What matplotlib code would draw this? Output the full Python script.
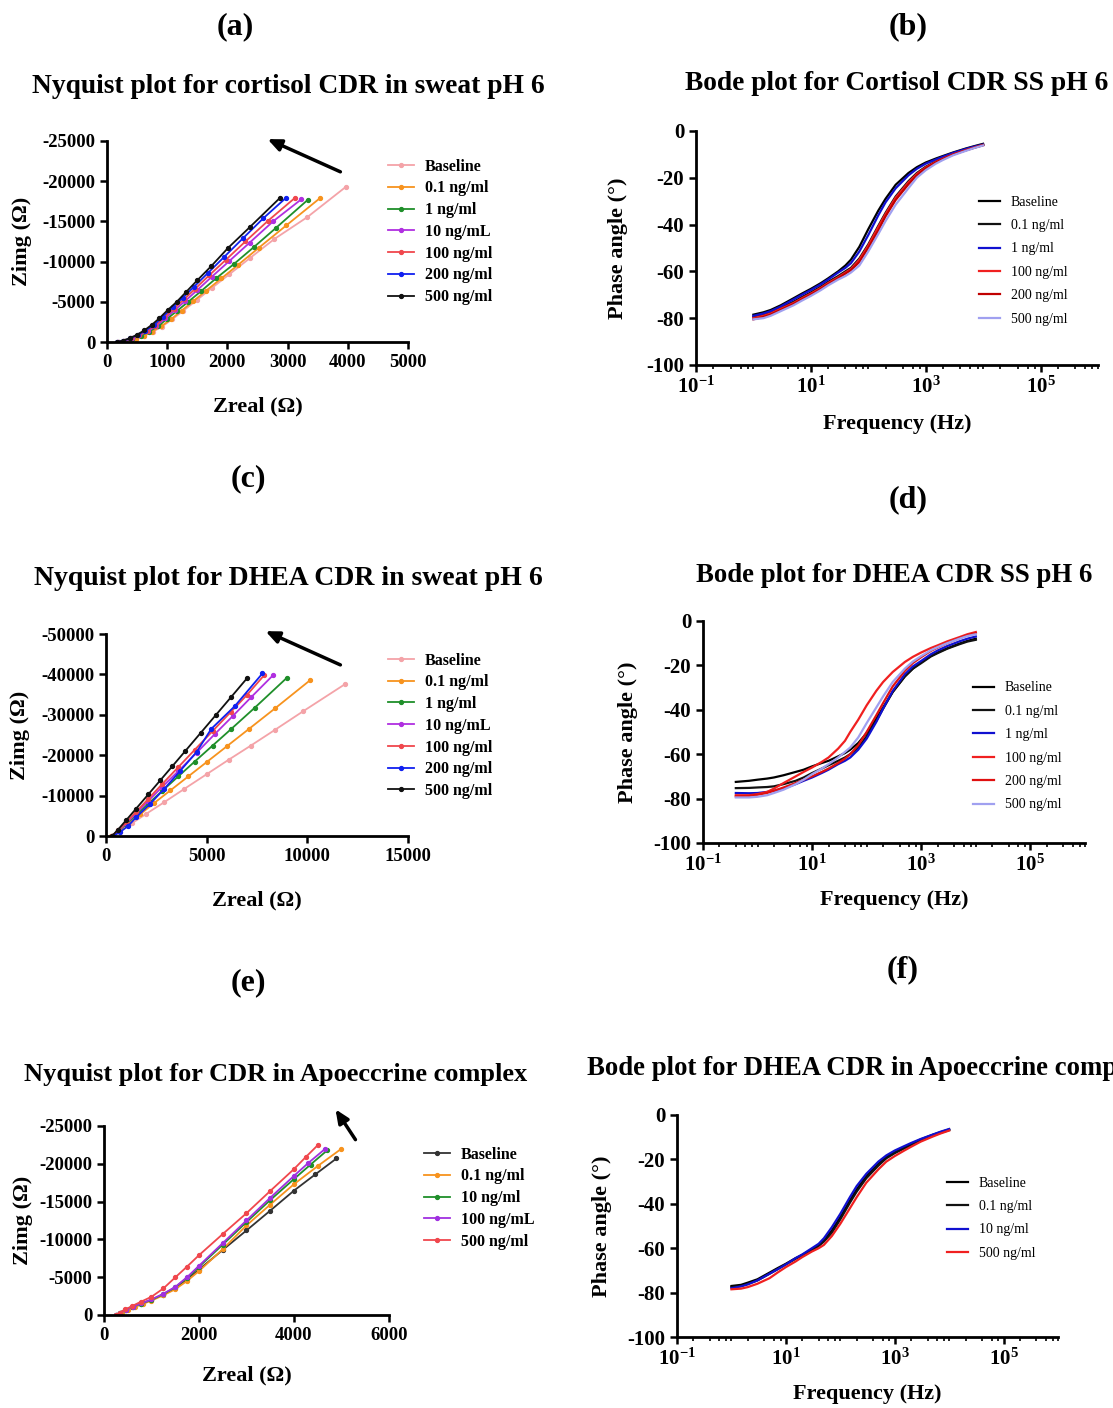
import numpy as np
import matplotlib
matplotlib.use("Agg")
import matplotlib.pyplot as plt
from matplotlib.ticker import FixedLocator, LogLocator, NullFormatter

plt.rcParams['font.family'] = ['Liberation Serif', 'DejaVu Serif']
plt.rcParams['axes.unicode_minus'] = False
plt.rcParams['mathtext.fontset'] = 'stix'

# ---------------- (a) Nyquist cortisol, sweat pH 6 ----------------
a_labels = ['Baseline', '0.1 ng/ml', '1 ng/ml', '10 ng/mL', '100 ng/ml', '200 ng/ml', '500 ng/ml']
a_colors = ['#f4a3a8', '#f7931e', '#1f8f2a', '#b02fe0', '#f0474d', '#1020f0', '#111111']
a_x = [
    [290, 380, 490, 620, 760, 910, 1080, 1270, 1490, 1740, 2030, 2370, 2780, 3331, 3967],
    [280, 370, 480, 610, 750, 900, 1060, 1240, 1430, 1650, 1900, 2180, 2520, 2980, 3541],
    [200, 300, 420, 560, 700, 850, 1000, 1170, 1350, 1560, 1810, 2110, 2440, 2810, 3340],
    [190, 290, 410, 540, 680, 820, 970, 1130, 1300, 1500, 1740, 2030, 2370, 2760, 3230],
    [180, 280, 400, 530, 660, 800, 950, 1110, 1280, 1470, 1700, 1980, 2300, 2680, 3120],
    [170, 270, 390, 510, 640, 780, 930, 1090, 1260, 1450, 1680, 1950, 2260, 2600, 2972],
    [160, 260, 380, 500, 620, 740, 870, 1010, 1160, 1310, 1500, 1735, 2011, 2376, 2873],
]
a_y = [
    [0, -140, -400, -780, -1270, -1900, -2800, -3900, -5200, -6700, -8400, -10400, -12800, -15540, -19280],
    [0, -150, -420, -800, -1300, -1950, -2800, -3900, -5050, -6400, -7900, -9600, -11700, -14500, -17900],
    [0, -140, -420, -800, -1300, -1950, -2900, -3900, -5000, -6300, -7900, -9700, -11800, -14200, -17700],
    [0, -150, -440, -840, -1350, -2000, -2950, -4000, -5100, -6450, -8100, -10050, -12350, -15000, -17750],
    [0, -150, -450, -860, -1380, -2050, -3050, -4150, -5300, -6650, -8300, -10250, -12500, -15100, -17900],
    [0, -150, -460, -880, -1420, -2100, -3150, -4300, -5500, -6900, -8600, -10600, -12900, -15400, -17910],
    [0, -160, -480, -900, -1450, -2100, -2950, -3980, -5000, -6180, -7670, -9450, -11690, -14300, -17910],
]

# ---------------- (b) Bode cortisol, SS pH 6 ----------------
b_labels = ['Baseline', '0.1 ng/ml', '1 ng/ml', '100 ng/ml', '200 ng/ml', '500 ng/ml']
b_colors = ['#000000', '#111111', '#1010d0', '#f02020', '#c00000', '#a0a0f0']
b_freq = [1, 1.5, 2, 3, 5, 7, 10, 15, 20, 30, 40, 50, 70, 100, 150, 200, 300, 500, 700,
          1000, 1500, 2000, 3000, 5000, 7000, 10000]
b_phase = [
    [-78.5, -77.5, -76.5, -74.5, -71.5, -69.5, -67.5, -65, -63, -60, -57.5, -55, -49.5, -42, -34,
     -29, -23, -18, -15.5, -13.5, -11.8, -10.7, -9.2, -7.5, -6.5, -5.5],
    [-79.5, -78.5, -77.5, -75.5, -73, -71, -69, -66.5, -64.5, -62, -60, -58.5, -54.5, -48.5, -40.5,
     -35, -28, -21.5, -18, -15.3, -13, -11.6, -9.8, -8, -7, -6],
    [-79, -78, -77, -75, -72, -70, -68, -65.5, -63.5, -60.5, -58.5, -56.5, -51.5, -44.5, -36,
     -30.5, -24.5, -19, -16.2, -14, -12.2, -11, -9.4, -7.7, -6.7, -5.8],
    [-80, -79, -78, -76, -73.5, -71.5, -69.5, -67, -65, -62.5, -60.5, -59, -55, -49, -41,
     -35.5, -28.5, -22, -18.4, -15.6, -13.2, -11.8, -10, -8.2, -7.1, -6],
    [-80.5, -79.5, -78.5, -76.5, -74, -72, -70, -67.5, -65.5, -63, -61, -59.5, -56, -50, -42.5,
     -36.5, -29.5, -22.8, -19, -16, -13.5, -12, -10.1, -8.3, -7.2, -6.1],
    [-80.5, -80, -79, -77, -74.5, -72.5, -70.5, -68, -66, -63.5, -62, -60.5, -57.5, -51.5, -44,
     -38.5, -31.5, -24.5, -20, -16.8, -14, -12.4, -10.4, -8.5, -7.3, -6.2],
]

# ---------------- (c) Nyquist DHEA, sweat pH 6 ----------------
c_labels = a_labels
c_colors = a_colors
c_x = [
    [300, 700, 1300, 2000, 2900, 3900, 5000, 6100, 7200, 8400, 9800, 11877],
    [250, 600, 1100, 1700, 2400, 3200, 4100, 5000, 6000, 7100, 8400, 10150],
    [300, 600, 1000, 1500, 2100, 2800, 3600, 4400, 5300, 6200, 7400, 8970],
    [300, 600, 1000, 1500, 2100, 2800, 3600, 4500, 5400, 6300, 7200, 8306],
    [300, 600, 1000, 1500, 2100, 2800, 3600, 4400, 5300, 6200, 7000, 7850],
    [350, 700, 1100, 1512, 2200, 2900, 3700, 4500, 5232, 6400, 7774],
    [300, 600, 1000, 1500, 2100, 2700, 3300, 3950, 4700, 5450, 6200, 7027],
]
c_y = [
    [0, -1100, -3200, -5500, -8400, -11700, -15300, -18900, -22400, -26300, -30900, -37600],
    [0, -1200, -3100, -5400, -8200, -11300, -14800, -18300, -22200, -26500, -31600, -38600],
    [0, -1200, -3000, -5200, -8000, -11200, -14800, -18400, -22400, -26400, -31800, -39090],
    [0, -1300, -3200, -5600, -8700, -12200, -16100, -20600, -25200, -29700, -34300, -39830],
    [0, -1400, -3400, -6000, -9200, -12900, -17100, -21300, -26000, -30700, -34900, -39750],
    [0, -1000, -2500, -4710, -8000, -11700, -16200, -20800, -26530, -32150, -40250],
    [0, -1600, -3900, -6800, -10300, -13800, -17300, -21100, -25500, -29900, -34300, -39170],
]

# ---------------- (d) Bode DHEA, SS pH 6 ----------------
d_labels = b_labels
d_colors = ['#000000', '#111111', '#1010d0', '#f02020', '#e01010', '#a0a0f0']
d_freq = [0.4, 0.7, 1, 1.5, 2, 3, 5, 7, 10, 15, 20, 30, 40, 50, 70, 100, 150, 200, 300, 500,
          700, 1000, 1500, 2000, 3000, 5000, 7000, 10000]
d_phase = [
    [-72.5, -72, -71.5, -71, -70.5, -69.5, -68, -67, -65.5, -64, -63, -61, -59.5, -58, -55,
     -50.5, -44, -39, -32, -25, -21.5, -18.5, -15.8, -14.2, -12.3, -10.2, -9, -8],
    [-75.3, -75.2, -75, -74.8, -74.5, -73.5, -72, -70.5, -68.5, -66.5, -65, -63, -61.5, -60, -57,
     -52, -45, -39.5, -32, -25, -21.5, -19, -16, -14.5, -12.5, -10.5, -9.3, -8.5],
    [-77.5, -77.6, -77.5, -77, -76.5, -75.5, -73.5, -72, -70.5, -68.5, -67, -64.5, -63, -61.5, -58,
     -53, -45.5, -39.5, -31.5, -24, -20.5, -18, -15, -13.3, -11.3, -9.2, -8, -7],
    [-78.5, -78.5, -78, -77, -75.5, -73, -70, -68, -66, -63.5, -61.5, -57.5, -54, -50, -44.5,
     -38, -31.5, -27.5, -23, -18.5, -16.2, -14.2, -12.2, -11, -9.2, -7.3, -6, -5],
    [-79, -78.8, -78.3, -77.5, -76.5, -75, -73, -71.5, -70, -68, -66.5, -64, -62, -60, -56,
     -50, -42.5, -37, -29.5, -22.5, -19, -16.3, -13.5, -12, -10, -7.8, -6.5, -5.5],
    [-79.5, -79.5, -79.2, -78.5, -77.5, -76, -73.5, -71.5, -69, -66.5, -64.5, -61.5, -59, -57, -52.5,
     -46, -39, -34, -27.5, -21.5, -18.3, -15.8, -13.2, -11.8, -10, -8, -6.8, -6],
]

# ---------------- (e) Nyquist CDR, apoeccrine ----------------
e_labels = ['Baseline', '0.1 ng/ml', '10 ng/ml', '100 ng/mL', '500 ng/ml']
e_colors = ['#333333', '#f7931e', '#1f8f2a', '#a030e0', '#f0474d']
e_x = [
    [250, 330, 450, 600, 780, 1000, 1250, 1500, 1750, 2000, 2500, 3000, 3500, 4000, 4450, 4894],
    [300, 380, 500, 650, 820, 1000, 1250, 1500, 1750, 2000, 2500, 3000, 3500, 4000, 4500, 4986],
    [260, 340, 460, 610, 790, 1000, 1250, 1500, 1750, 2000, 2500, 3000, 3500, 4000, 4350, 4704],
    [260, 340, 460, 610, 790, 1000, 1250, 1500, 1750, 2000, 2500, 3000, 3500, 4000, 4300, 4648],
    [250, 330, 450, 600, 780, 1000, 1250, 1500, 1750, 2000, 2500, 3000, 3500, 4000, 4250, 4507],
]
e_y = [
    [0, -300, -700, -1100, -1500, -1970, -2700, -3500, -4700, -6000, -8600, -11180, -13800, -16450, -18600, -20700],
    [0, -250, -650, -1050, -1450, -1900, -2600, -3400, -4500, -5800, -8700, -11840, -14600, -17300, -19700, -21930],
    [0, -280, -680, -1100, -1500, -2000, -2750, -3650, -4900, -6360, -9300, -12280, -15200, -17980, -19900, -21800],
    [0, -280, -680, -1100, -1520, -2050, -2800, -3700, -5000, -6500, -9500, -12500, -15500, -18400, -20100, -21930],
    [0, -300, -720, -1200, -1750, -2400, -3500, -4960, -6400, -7900, -10700, -13460, -16400, -19300, -20900, -22500],
]

# ---------------- (f) Bode DHEA, apoeccrine ----------------
f_labels = ['Baseline', '0.1 ng/ml', '10 ng/ml', '500 ng/ml']
f_colors = ['#000000', '#111111', '#1010d0', '#f02020']
f_freq = [1, 1.5, 2, 3, 5, 7, 10, 15, 20, 30, 40, 50, 70, 100, 150, 200, 300, 500, 700,
          1000, 1500, 2000, 3000, 5000, 7000, 10000]
f_phase = [
    [-77, -76.5, -75.5, -74, -71, -69, -67, -64.5, -63, -60.5, -58.5, -56.5, -52, -46, -38.5,
     -33.5, -27.5, -21.8, -18.8, -16.5, -14.5, -13, -11, -8.9, -7.7, -6.5],
    [-77.5, -77, -76, -74.5, -71.5, -69.5, -67.3, -64.8, -63.2, -61, -59, -57, -53, -47, -39.5,
     -34.5, -28.5, -22.8, -19.5, -17.2, -15, -13.5, -11.4, -9.3, -8, -6.8],
    [-78, -77.2, -76.3, -74.5, -71.5, -69.5, -67.3, -64.5, -62.8, -60, -58, -55.5, -50.5, -44.5, -37,
     -32, -26.5, -21, -18.2, -16, -14, -12.6, -10.8, -8.8, -7.5, -6.3],
    [-78.5, -78.2, -77.5, -76, -73.5, -71, -68.5, -66, -64, -61.5, -60, -58.5, -54.5, -49, -42,
     -37, -30.5, -24.5, -21, -18.5, -16, -14.3, -12, -9.7, -8.3, -7],
]


def style_axes(ax):
    for side in ['top', 'right']:
        ax.spines[side].set_visible(False)
    for side in ['left', 'bottom']:
        ax.spines[side].set_linewidth(2.0)
    ax.tick_params(which='major', direction='out', length=5, width=1.8)
    ax.tick_params(which='minor', direction='out', length=3, width=1.2)


def draw_nyquist(ax, xs, ys, labels, colors, xmax, xstep, ymin, ystep, leg_pos, arrow):
    for x, y, lab, col in zip(xs, ys, labels, colors):
        ax.plot(x, y, '-o', color=col, lw=1.3, ms=2.8, label=lab)
    ax.set_xlim(0, xmax)
    ax.set_ylim(0, ymin)
    ax.set_xticks(np.arange(0, xmax + 1, xstep))
    ax.set_yticks(np.arange(0, ymin - 1, -ystep))
    style_axes(ax)
    for t in ax.get_xticklabels() + ax.get_yticklabels():
        t.set_fontsize(13.5)
        t.set_fontweight('bold')
    ax.set_xlabel('Zreal (Ω)', fontsize=16, fontweight='bold', va='top')
    ax.set_ylabel('Zimg (Ω)', fontsize=16, fontweight='bold')
    ax.xaxis.set_label_coords(0.5, -0.27)
    ax.yaxis.set_label_coords(-0.25, 0.5)
    ax.annotate('', xy=arrow[1], xytext=arrow[0], annotation_clip=False,
                arrowprops=dict(arrowstyle='-|>,head_length=0.8,head_width=0.35', color='black', lw=2.5))
    ax.legend(loc='upper left', bbox_to_anchor=leg_pos, bbox_transform=ax.figure.transFigure,
              frameon=False, handlelength=1.6, handletextpad=0.7, labelspacing=0.36, borderpad=0,
              prop={'size': 11.5, 'weight': 'bold'})


def draw_bode(ax, freq, phases, labels, colors, leg_pos):
    for ph, lab, col in zip(phases, labels, colors):
        ax.plot(freq, ph, '-', color=col, lw=1.6, label=lab)
    ax.set_xscale('log')
    ax.set_xlim(0.1, 1e6)
    ax.set_ylim(-100, 0)
    ax.set_yticks([0, -20, -40, -60, -80, -100])
    ax.xaxis.set_major_locator(FixedLocator([0.1, 10, 1e3, 1e5]))
    ax.set_xticklabels([r'$\mathregular{10^{-1}}$', r'$\mathregular{10^{1}}$',
                        r'$\mathregular{10^{3}}$', r'$\mathregular{10^{5}}$'])
    ax.xaxis.set_minor_locator(LogLocator(base=10, subs=(1.0, 2.0, 4.0, 6.0, 8.0), numticks=20))
    ax.xaxis.set_minor_formatter(NullFormatter())
    style_axes(ax)
    for t in ax.get_xticklabels() + ax.get_yticklabels():
        t.set_fontsize(15)
        t.set_fontweight('bold')
    ax.set_xlabel('Frequency (Hz)', fontsize=16, fontweight='bold', va='top')
    ax.set_ylabel('Phase angle (°)', fontsize=16, fontweight='bold')
    ax.xaxis.set_label_coords(0.5, -0.21)
    ax.yaxis.set_label_coords(-0.17, 0.5)
    ax.legend(loc='upper left', bbox_to_anchor=leg_pos, bbox_transform=ax.figure.transFigure,
              frameon=False, handlelength=1.5, handletextpad=0.8, labelspacing=0.75, borderpad=0,
              prop={'size': 10})


fig = plt.figure(figsize=(11.13, 14.08), dpi=100)

ax_a = fig.add_axes([0.0961, 0.7571, 0.2704, 0.1428])
draw_nyquist(ax_a, a_x, a_y, a_labels, a_colors, 5000, 1000, -25000, 5000,
             (0.3414, 0.893), ((3920, -21020), (2625, -25373)))

ax_b = fig.add_axes([0.6253, 0.7408, 0.3612, 0.1662])
draw_bode(ax_b, b_freq, b_phase, b_labels, b_colors, (0.8733, 0.866))

ax_c = fig.add_axes([0.0952, 0.4062, 0.2713, 0.1435])
draw_nyquist(ax_c, c_x, c_y, c_labels, c_colors, 15000, 5000, -50000, 10000,
             (0.3414, 0.5422), ((11771, -42079), (7798, -50990)))

ax_d = fig.add_axes([0.6316, 0.4013, 0.3432, 0.1577])
draw_bode(ax_d, d_freq, d_phase, d_labels, d_colors, (0.868, 0.521))

ax_e = fig.add_axes([0.0934, 0.0661, 0.2561, 0.1342])
draw_nyquist(ax_e, e_x, e_y, e_labels, e_colors, 6000, 2000, -25000, 5000,
             (0.3738, 0.1913), ((5326, -22884), (4842, -27513)))

ax_f = fig.add_axes([0.6083, 0.0504, 0.3423, 0.1577])
draw_bode(ax_f, f_freq, f_phase, f_labels, f_colors, (0.8446, 0.1693))

# titles
title_kw = dict(fontweight='bold', va='center')
fig.text(0.2588, 0.9389, 'Nyquist plot for cortisol CDR in sweat pH 6', ha='center', fontsize=19.8, **title_kw)
fig.text(0.806, 0.941, 'Bode plot for Cortisol CDR SS pH 6', ha='center', fontsize=19.8, **title_kw)
fig.text(0.2588, 0.5888, 'Nyquist plot for DHEA CDR in sweat pH 6', ha='center', fontsize=20, **title_kw)
fig.text(0.8032, 0.5916, 'Bode plot for DHEA CDR SS pH 6', ha='center', fontsize=19.3, **title_kw)
fig.text(0.248, 0.2372, 'Nyquist plot for CDR in Apoeccrine complex', ha='center', fontsize=19, **title_kw)
fig.text(0.5274, 0.2408, 'Bode plot for DHEA CDR in Apoeccrine complex', ha='left', fontsize=19.3, **title_kw)

# panel letters
panel_kw = dict(fontsize=23, fontweight='bold', ha='center', va='center')
fig.text(0.2111, 0.9808, '(a)', **panel_kw)
fig.text(0.8158, 0.9808, '(b)', **panel_kw)
fig.text(0.2228, 0.6598, '(c)', **panel_kw)
fig.text(0.8158, 0.6449, '(d)', **panel_kw)
fig.text(0.2228, 0.3018, '(e)', **panel_kw)
fig.text(0.8113, 0.3111, '(f)', **panel_kw)

fig.savefig('out.png', dpi=100)
